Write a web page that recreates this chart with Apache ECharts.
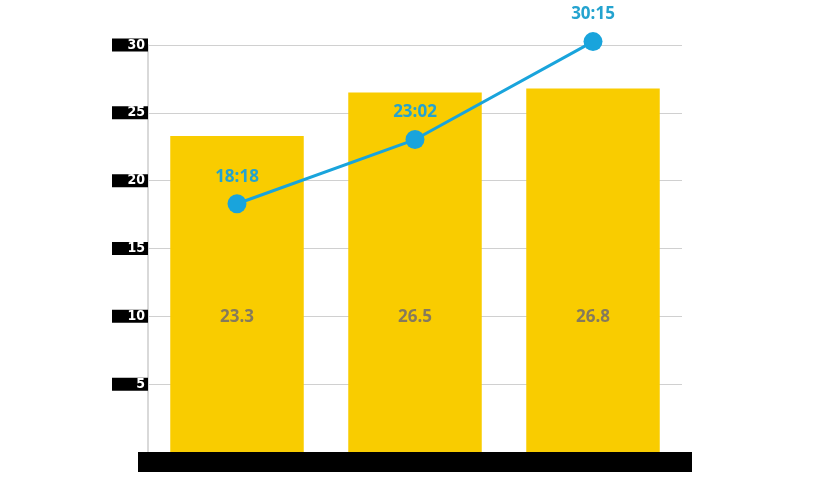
<!DOCTYPE html>
<html><head><meta charset="utf-8">
<script src="https://cdn.jsdelivr.net/npm/echarts@6/dist/echarts.min.js"></script>
<style>html,body{margin:0;padding:0;background:#fff}#c{width:828px;height:479px}</style>
</head><body><div id="c"></div>
<script>
const categories = ['A', 'B', 'C'];
const barValues = [23.3, 26.5, 26.8];
const lineValues = [18.3, 23.03, 30.25];
const lineLabels = ['18:18', '23:02', '30:15'];
const yTicks = [5, 10, 15, 20, 25, 30];

const chart = echarts.init(document.getElementById('c'));
chart.setOption({
  animation: false,
  grid: { left: 148, right: 146, top: 45, bottom: 27 },
  xAxis: {
    type: 'category', data: categories,
    offset: 10,
    axisLine: { show: true, onZero: false, lineStyle: { color: '#000', width: 20, cap: 'square' } },
    axisTick: { show: false },
    axisLabel: { show: false }
  },
  yAxis: {
    type: 'value', min: 0, max: 30, interval: 5,
    axisLine: { show: true, lineStyle: { color: '#d9d9d9', width: 2 } },
    axisTick: { show: false },
    splitLine: { lineStyle: { color: '#d0d0d0', width: 1 } },
    axisLabel: {
      margin: 0, showMinLabel: false,
      formatter: v => yTicks.includes(v) ? String(v) : '',
      color: '#fff', backgroundColor: '#000',
      fontFamily: 'DejaVu Sans Condensed, Liberation Sans Narrow, sans-serif',
      fontSize: 14, fontWeight: 'bold',
      width: 22, overflow: 'none',
      padding: [0, 3, 0, 11], align: 'right', lineHeight: 13
    }
  },
  series: [
    {
      type: 'bar', data: barValues, barWidth: '75%',
      itemStyle: { color: '#f9cc00' },
      label: {
        show: true, position: 'insideBottom', distance: 126,
        color: '#857a5c', fontSize: 17, fontWeight: 'bold',
        fontFamily: 'Open Sans, sans-serif'
      }
    },
    {
      type: 'line', data: lineValues, clip: false,
      symbol: 'circle', symbolSize: 19,
      lineStyle: { color: '#19a4dc', width: 3 },
      itemStyle: { color: '#19a4dc' },
      label: {
        show: true, position: 'top', distance: 9,
        formatter: p => lineLabels[p.dataIndex],
        color: '#24a3cf', fontSize: 17, fontWeight: 'bold',
        fontFamily: 'Open Sans, sans-serif'
      },
      z: 5
    }
  ]
});
</script></body></html>
